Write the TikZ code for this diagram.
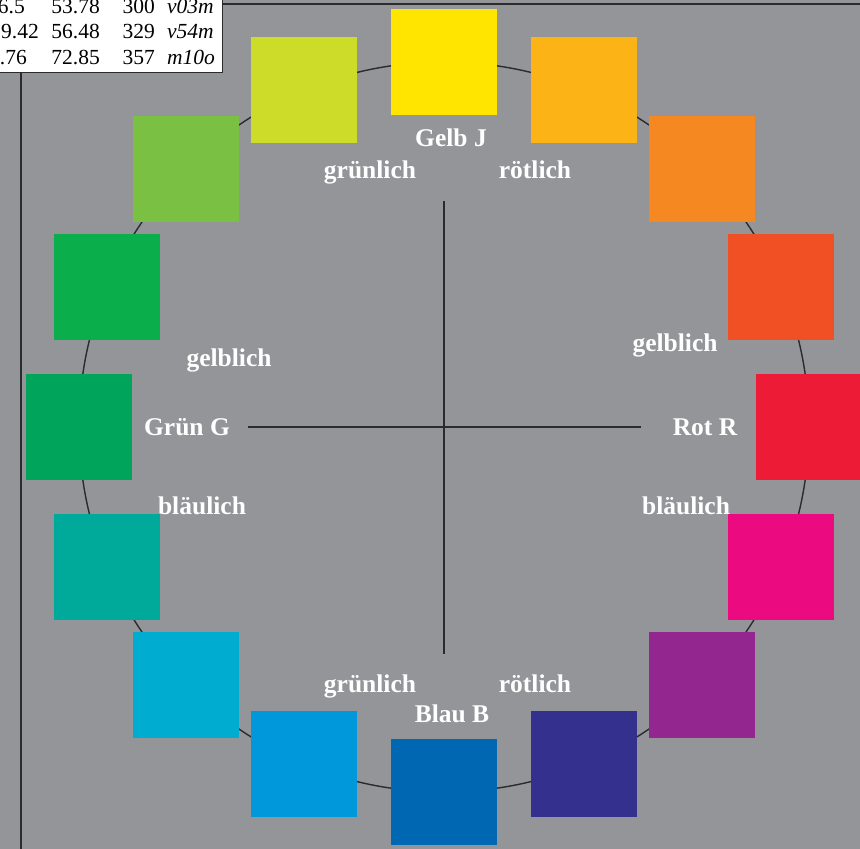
\documentclass[tikz,border=0pt]{standalone}
\usepackage{fontspec}
\setmainfont{Liberation Serif}
\usepackage{tikz}
\usetikzlibrary{positioning}

\definecolor{bggray}{HTML}{939598}
\definecolor{frame}{HTML}{2B2B2D}
\definecolor{hue00}{HTML}{FFE500}
\definecolor{hue01}{HTML}{FBB316}
\definecolor{hue02}{HTML}{F58820}
\definecolor{hue03}{HTML}{F05023}
\definecolor{hue04}{HTML}{ED1B35}
\definecolor{hue05}{HTML}{EC0A80}
\definecolor{hue06}{HTML}{93278F}
\definecolor{hue07}{HTML}{34318E}
\definecolor{hue08}{HTML}{0068B3}
\definecolor{hue09}{HTML}{0098DA}
\definecolor{hue10}{HTML}{00ACD0}
\definecolor{hue11}{HTML}{00AA9B}
\definecolor{hue12}{HTML}{00A55B}
\definecolor{hue13}{HTML}{0AAE4A}
\definecolor{hue14}{HTML}{7AC143}
\definecolor{hue15}{HTML}{CDDC28}

\begin{document}
\begin{tikzpicture}[x=1pt, y=-1pt,
    swatch/.style={minimum size=106pt, inner sep=0pt, fill=#1},
    hue/.style={text=white, font=\fontsize{25.5}{30}\selectfont\bfseries, anchor=base, inner sep=0pt},
    cell/.style={font=\fontsize{21.5}{25}\selectfont, inner sep=0pt, anchor=base east},
    code/.style={font=\fontsize{21.5}{25}\selectfont\itshape, inner sep=0pt, anchor=base west}]
    \useasboundingbox (0,0) rectangle (860,849);
    \clip (0,0) rectangle (860,849);
    \fill[bggray] (0,0) rectangle (860,849);
    % frame lines
    \coordinate (topl) at (222,4);
    \coordinate (topr) at (860,4);
    \coordinate (leftt) at (21,72);
    \coordinate (leftb) at (21,849);
    \draw[line width=2pt, frame] (topl) -- (topr);
    \draw[line width=2pt, frame] (leftt) -- (leftb);
    % table
    \draw[fill=white, draw=frame, line width=0.9pt] (-2,-2) rectangle (222,72);
    \node[cell] (r1a) at (25,13) {6.5};
    \node[cell] (r1b) at (100,13) {53.78};
    \node[cell] (r1c) at (155,13) {300};
    \node[code] (r1d) at (167,13) {v03m};
    \node[cell] (r2a) at (39,38.5) {9.42};
    \node[cell] (r2b) at (100,38.5) {56.48};
    \node[cell] (r2c) at (155,38.5) {329};
    \node[code] (r2d) at (167,38.5) {v54m};
    \node[cell] (r3a) at (27,64) {.76};
    \node[cell] (r3b) at (100,64) {72.85};
    \node[cell] (r3c) at (155,64) {357};
    \node[code] (r3d) at (167,64) {m10o};
    % hue circle
    \coordinate (c) at (444,427);
    \draw[line width=1.4pt, frame] (c) circle (365);
    \foreach \i/\col in {0/hue00,1/hue01,2/hue02,3/hue03,4/hue04,5/hue05,6/hue06,7/hue07,
                         8/hue08,9/hue09,10/hue10,11/hue11,12/hue12,13/hue13,14/hue14,15/hue15} {
        \pgfmathsetmacro\a{90-22.5*\i}
        \node[swatch=\col] (sq\i) at ({444+365*cos(\a)},{427-365*sin(\a)}) {};
    }
    % axes
    \coordinate (axl) at (248,427);
    \coordinate (axr) at (641,427);
    \coordinate (axt) at (444,201);
    \coordinate (axb) at (444,654);
    \draw[line width=1.4pt, frame] (axl) -- (axr);
    \draw[line width=1.4pt, frame] (axt) -- (axb);
    % labels
    \node[hue] (gelb) at (451,146) {Gelb J};
    \node[hue] (gr1) at (370,178) {grünlich};
    \node[hue] (ro1) at (535,178) {rötlich};
    \node[hue] (ge1) at (675,351) {gelblich};
    \node[hue] (rot) at (705,435) {Rot R};
    \node[hue] (bl1) at (686,514) {bläulich};
    \node[hue] (gr2) at (370,692) {grünlich};
    \node[hue] (ro2) at (535,692) {rötlich};
    \node[hue] (blau) at (452,722) {Blau B};
    \node[hue] (bl2) at (202,514) {bläulich};
    \node[hue] (gruen) at (187,435) {Grün G};
    \node[hue] (ge2) at (229,366) {gelblich};
\end{tikzpicture}
\end{document}
